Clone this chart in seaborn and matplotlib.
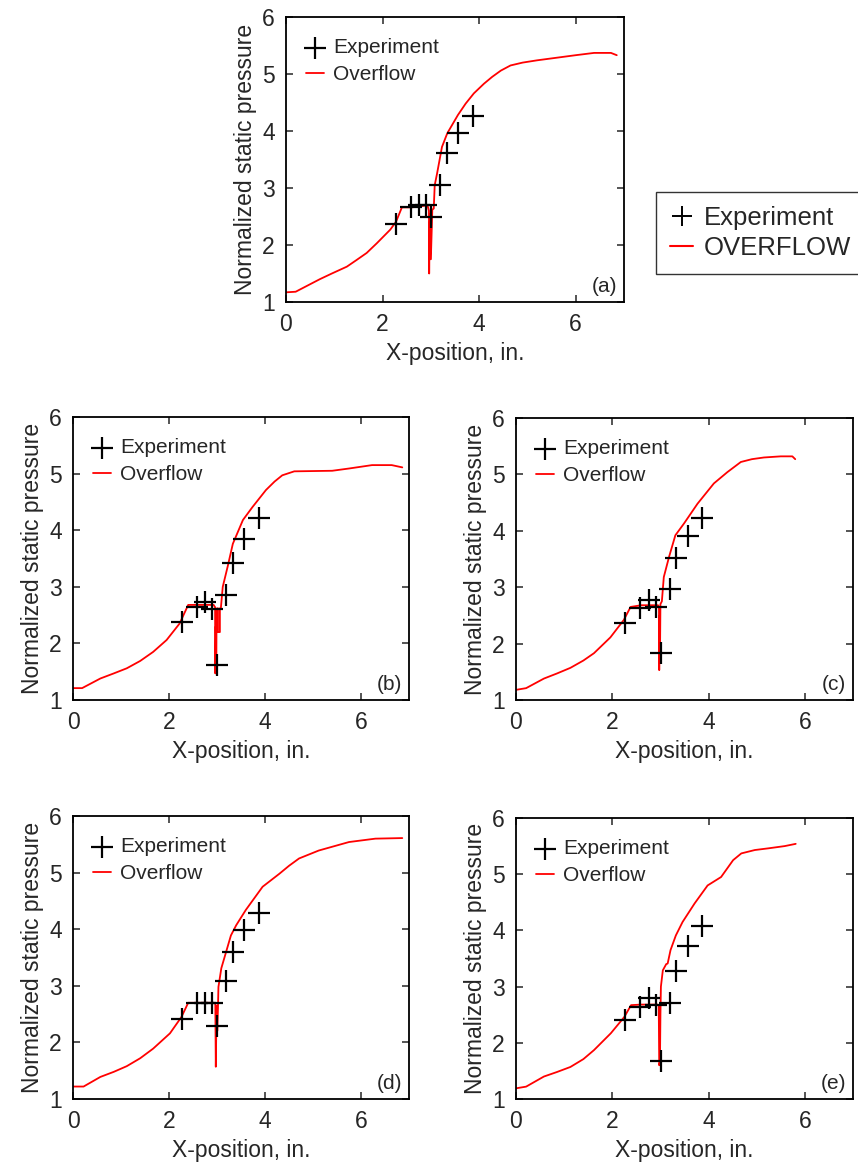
import numpy as np
import pandas as pd
import matplotlib
matplotlib.use("Agg")
import matplotlib.pyplot as plt
from matplotlib.lines import Line2D
import seaborn as sns

# experiment tap positions (same for all cases)
exp_x = [2.27, 2.58, 2.76, 2.9, 3.01, 3.19, 3.33, 3.57, 3.87]
exp_a = [2.36, 2.66, 2.70, 2.71, 2.49, 3.06, 3.61, 3.96, 4.26]
exp_b = [2.38, 2.65, 2.74, 2.60, 1.61, 2.86, 3.42, 3.84, 4.21]
exp_c = [2.37, 2.63, 2.77, 2.65, 1.83, 2.96, 3.52, 3.90, 4.22]
exp_d = [2.41, 2.70, 2.70, 2.70, 2.29, 3.08, 3.60, 3.98, 4.29]
exp_e = [2.41, 2.63, 2.80, 2.68, 1.68, 2.70, 3.28, 3.72, 4.08]

# OVERFLOW curves
ovf_a_x = [0, 0.2, 0.45, 0.7, 0.95, 1.26, 1.45, 1.67, 1.88, 2.16, 2.28, 2.40, 2.6, 2.8, 2.93, 2.96,
           2.965, 2.975, 2.985, 2.99, 3.0, 3.03, 3.06, 3.08, 3.13, 3.23, 3.34, 3.56, 3.72, 3.89,
           4.1, 4.27, 4.45, 4.65, 4.9, 5.2, 6.0, 6.38, 6.73, 6.85]
ovf_a_y = [1.17, 1.18, 1.29, 1.40, 1.50, 1.62, 1.73, 1.86, 2.03, 2.27, 2.41, 2.66, 2.66, 2.68, 2.70, 2.60,
           1.50, 2.40, 1.75, 2.55, 1.75, 2.62, 2.64, 3.05, 3.26, 3.72, 3.96, 4.28, 4.48, 4.66,
           4.83, 4.95, 5.06, 5.15, 5.20, 5.24, 5.33, 5.37, 5.37, 5.33]

ovf_b_x = [0, 0.19, 0.57, 0.85, 1.12, 1.4, 1.67, 1.95, 2.22, 2.40, 2.6, 2.8, 2.93, 2.96, 2.965, 2.975,
           2.985, 2.99, 3.0, 3.02, 3.02, 3.06, 3.06, 3.08, 3.12, 3.22, 3.33, 3.54, 3.74, 4.02, 4.2,
           4.36, 4.61, 5.40, 5.75, 6.23, 6.64, 6.86]
ovf_b_y = [1.21, 1.21, 1.38, 1.47, 1.56, 1.69, 1.85, 2.06, 2.35, 2.68, 2.68, 2.68, 2.68, 2.64, 1.47, 2.30,
           1.50, 2.40, 2.62, 2.62, 2.20, 2.20, 2.62, 2.62, 3.00, 3.35, 3.76, 4.18, 4.41, 4.71, 4.86,
           4.97, 5.04, 5.05, 5.09, 5.15, 5.15, 5.11]

ovf_c_x = [0, 0.21, 0.58, 0.85, 1.13, 1.4, 1.62, 1.96, 2.24, 2.38, 2.6, 2.8, 2.95, 2.97, 2.975, 2.985,
           2.99, 3.0, 3.03, 3.07, 3.18, 3.31, 3.49, 3.77, 4.11, 4.39, 4.67, 4.9, 5.15, 5.50, 5.74, 5.80]
ovf_c_y = [1.18, 1.21, 1.38, 1.47, 1.57, 1.70, 1.83, 2.11, 2.42, 2.65, 2.68, 2.68, 2.68, 2.64, 1.53, 2.50,
           1.70, 2.70, 2.75, 3.18, 3.54, 3.92, 4.13, 4.48, 4.84, 5.04, 5.22, 5.27, 5.30, 5.32, 5.32, 5.27]

ovf_d_x = [0, 0.22, 0.57, 0.85, 1.12, 1.4, 1.67, 2.02, 2.26, 2.40, 2.6, 2.8, 2.94, 2.965, 2.975, 2.985,
           2.995, 3.005, 3.02, 3.03, 3.09, 3.19, 3.29, 3.40, 3.60, 3.95, 4.30, 4.5, 4.71, 5.12, 5.75,
           6.30, 6.86]
ovf_d_y = [1.22, 1.22, 1.39, 1.48, 1.58, 1.72, 1.89, 2.16, 2.45, 2.70, 2.70, 2.70, 2.70, 2.68, 1.57, 2.20,
           2.65, 2.20, 2.60, 2.98, 3.31, 3.60, 3.89, 4.07, 4.34, 4.75, 4.98, 5.12, 5.25, 5.39, 5.54,
           5.60, 5.61]

ovf_e_x = [0, 0.21, 0.58, 0.85, 1.13, 1.4, 1.62, 1.97, 2.25, 2.39, 2.6, 2.8, 2.94, 2.965, 2.975, 2.99,
           3.0, 3.01, 3.05, 3.12, 3.15, 3.21, 3.32, 3.46, 3.71, 3.98, 4.26, 4.51, 4.68, 4.96, 5.24,
           5.58, 5.81]
ovf_e_y = [1.19, 1.22, 1.40, 1.48, 1.57, 1.71, 1.87, 2.17, 2.46, 2.67, 2.68, 2.68, 2.68, 2.66, 1.60, 1.65,
           2.50, 3.00, 3.29, 3.40, 3.41, 3.65, 3.91, 4.15, 4.48, 4.80, 4.95, 5.25, 5.37, 5.43, 5.46,
           5.50, 5.54]

panels = [
    ("(a)", exp_a, ovf_a_x, ovf_a_y, [286, 17, 624, 302]),
    ("(b)", exp_b, ovf_b_x, ovf_b_y, [73, 417, 409, 700]),
    ("(c)", exp_c, ovf_c_x, ovf_c_y, [516, 418, 853, 700]),
    ("(d)", exp_d, ovf_d_x, ovf_d_y, [73, 816, 409, 1099]),
    ("(e)", exp_e, ovf_e_x, ovf_e_y, [516, 818, 853, 1099]),
]

sns.set_style("ticks")
plt.rcParams['font.family'] = ['Liberation Sans', 'DejaVu Sans']
plt.rcParams['xtick.direction'] = 'in'
plt.rcParams['ytick.direction'] = 'in'

W, H = 858, 1167
fig = plt.figure(figsize=(W / 100, H / 100), dpi=100)

for tag, ey, ox, oy, (l, t, r, b) in panels:
    ax = fig.add_axes([l / W, 1 - b / H, (r - l) / W, (b - t) / H])
    line_df = pd.DataFrame({"x": ox, "p": oy})
    exp_df = pd.DataFrame({"x": exp_x, "p": ey})
    sns.scatterplot(data=exp_df, x="x", y="p", marker="+", s=230, color="black",
                    linewidth=1.6, ax=ax, label="Experiment", zorder=3)
    sns.lineplot(data=line_df, x="x", y="p", sort=False, estimator=None, color="#ff0000",
                 linewidth=1.3, ax=ax, label="Overflow", zorder=2)
    ax.set_xlim(0, 7)
    ax.set_ylim(1, 6)
    ax.set_xticks([0, 2, 4, 6])
    ax.set_yticks([1, 2, 3, 4, 5, 6])
    ax.tick_params(labelsize=16.5, length=5, width=1.1, top=True, right=True,
                   labeltop=False, labelright=False, pad=8)
    for sp in ax.spines.values():
        sp.set_linewidth(1.3)
        sp.set_color("black")
    ax.set_xlabel("X-position, in.", fontsize=16.5, labelpad=4)
    ax.set_ylabel("Normalized static pressure", fontsize=16.5, labelpad=4)
    ax.text(0.98, 0.02, tag, transform=ax.transAxes, ha="right", va="bottom", fontsize=15)
    ax.legend(loc="upper left", bbox_to_anchor=(0.06, 0.925), frameon=False, fontsize=15,
              handlelength=0.85, handletextpad=0.45, borderpad=0, borderaxespad=0,
              labelspacing=0.38)

# legend on the right side of the figure
handles = [Line2D([], [], marker="+", color="black", linestyle="none", markersize=14, mew=1.4),
           Line2D([], [], color="#ff0000", linewidth=1.5)]
fig.legend(handles, ["Experiment", "OVERFLOW"], loc="upper left",
           bbox_to_anchor=(656 / W, 1 - 192 / H), fontsize=18.5, frameon=True, fancybox=False,
           edgecolor="black", handlelength=0.9, handletextpad=0.42, borderpad=0.55,
           labelspacing=0.22, borderaxespad=0)

fig.savefig("out.png", dpi=100)
